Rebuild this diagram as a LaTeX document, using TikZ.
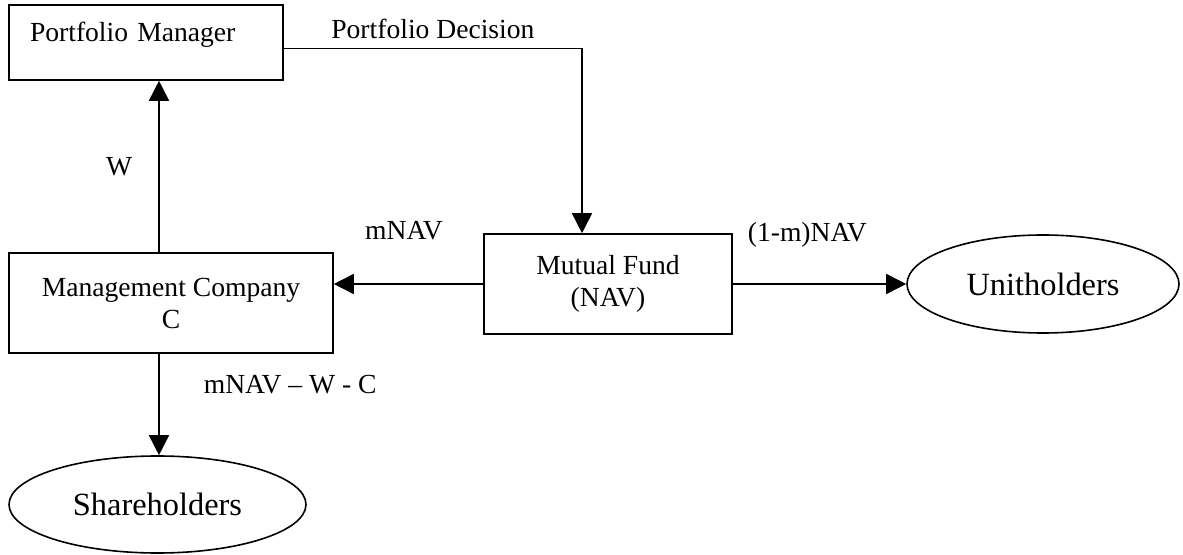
\documentclass[tikz,border=0pt]{standalone}
\usepackage{fontspec}
\setmainfont{Liberation Serif}
\usetikzlibrary{arrows.meta,shapes.geometric}
\tikzset{
  box/.style={draw, rectangle, line width=0.8pt, inner sep=0pt, font=\fontsize{13.8}{16}\selectfont, align=center},
  holder/.style={draw, ellipse, line width=0.8pt, inner sep=0pt, font=\fontsize{16.2}{19}\selectfont},
  flow/.style={-{Triangle[length=10pt,width=10pt]}, line width=0.8pt},
  lbl/.style={inner sep=0pt, font=\fontsize{13.8}{16}\selectfont}
}
\begin{document}
\begin{tikzpicture}[x=0.5pt,y=-0.5pt]
	\useasboundingbox (0,0) rectangle (1183,555);
	\node[box, align=left, text width=116pt, inner xsep=10.5pt, text height=18.5pt, text depth=19pt] (pm) at (146,42.5) {Portfolio Manager};
	\node[box, minimum width=162pt, minimum height=50pt] (mc) at (171,303.25) {Management Company\\C};
	\node[box, minimum width=124pt, minimum height=50pt] (mf) at (608,284) {Mutual Fund\\(NAV)};
	\node[holder, minimum width=136pt, minimum height=49pt] (uh) at (1043,284) {Unitholders};
	\node[holder, minimum width=148.5pt, minimum height=48.5pt] (sh) at (157.5,504.5) {Shareholders};
	% Flows
	\coordinate (wbase) at ([xshift=-6pt]mc.north);
	\coordinate (sbase) at ([xshift=-6pt]mc.south);
	\draw [flow] (wbase) -- node [lbl, left=13pt] (lw) {W} (wbase |- pm.south);
	\draw [flow] ([yshift=-3pt]pm.east) -| node [lbl, above=4.5pt, pos=0.25] (lpd) {Portfolio Decision} ([xshift=-13pt]mf.north);
	\draw [flow] (mf.west) -- node [lbl, above=21.5pt, pos=0.53] (lm) {mNAV} (mf.west -| mc.east);
	\draw [flow] (mf.east) -- node [lbl, above=18pt, pos=0.43] (lom) {(1-m)NAV} (uh.west);
	\draw [flow] (sbase) -- node [lbl, right=22pt, pos=0.3] (lsh) {mNAV – W - C} (sbase |- sh.north);
\end{tikzpicture}
\end{document}
